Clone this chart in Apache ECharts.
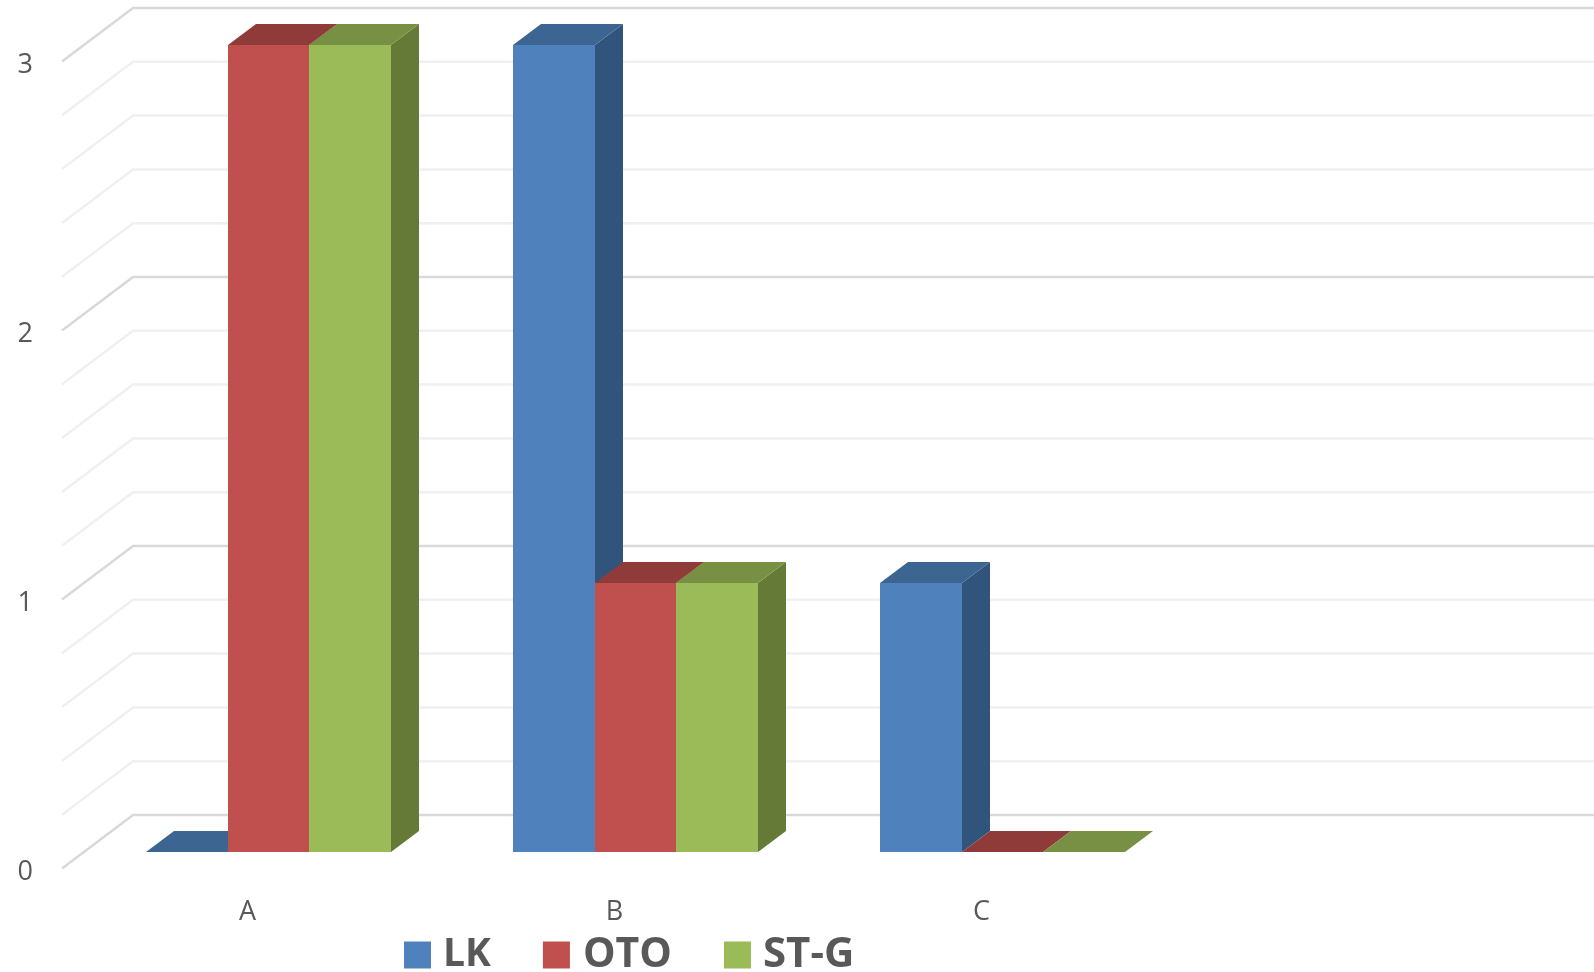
<!DOCTYPE html>
<html>
<head>
<meta charset="utf-8">
<style>html,body{margin:0;padding:0;background:#fff}#c{width:1594px;height:972px}</style>
<script src="https://cdn.jsdelivr.net/npm/echarts@6/dist/echarts.min.js"></script>
</head>
<body>
<div id="c"></div>
<script>
const categories = ['A', 'B', 'C', ''];
const seriesNames = ['LK', 'OTO', 'ST-G'];
const lkValues = [0, 3, 1];
const otoValues = [3, 1, 0];
const stgValues = [3, 1, 0];
const gridValues = [0, 0.2, 0.4, 0.6, 0.8, 1, 1.2, 1.4, 1.6, 1.8, 2, 2.2, 2.4, 2.6, 2.8, 3];
const frontColors = ['#4F81BD', '#C0504D', '#9BBB59'];
const topColors = ['#3C6592', '#8E3B3A', '#789044'];
const sideColors = ['#31547C', '#8E3B3A', '#657A37'];

const wallDx = 71, wallDy = -53.5;
const barShiftX = 23, barShiftY = -16.5;
const depthX = 28, depthY = -21;

function wallItem(params, api) {
  const v = api.value(1);
  const p = api.coord([0, v]);
  const cs = params.coordSys;
  const x0 = cs.x;
  const major = Number.isInteger(v);
  return {
    type: 'polyline',
    silent: true,
    shape: { points: [[x0, p[1]], [x0 + wallDx, p[1] + wallDy], [cs.x + cs.width + wallDx, p[1] + wallDy]] },
    style: { fill: null, stroke: major ? '#D9D9D9' : '#F0F0F0', lineWidth: 2.5 }
  };
}

function barRenderer(idx) {
  return function (params, api) {
    const cat = api.value(0);
    const val = api.value(1);
    const band = api.size([1, 0])[0];
    const w = band / 4.5;
    const c = api.coord([cat, val]);
    const b = api.coord([cat, 0]);
    const x0 = Math.round(c[0] - 1.5 * w + idx * w + barShiftX);
    const x1 = Math.round(c[0] - 1.5 * w + (idx + 1) * w + barShiftX);
    const yt = Math.round(c[1] + barShiftY);
    const yb = Math.round(b[1] + barShiftY);
    const children = [];
    if (yb - yt > 0.5) {
      children.push({
        type: 'polygon',
        shape: { points: [[x1, yt], [x1 + depthX, yt + depthY], [x1 + depthX, yb + depthY], [x1, yb]] },
        style: { fill: sideColors[idx] }
      });
      children.push({
        type: 'polygon',
        shape: { points: [[x0, yt], [x1, yt], [x1, yb], [x0, yb]] },
        style: { fill: frontColors[idx] }
      });
    }
    children.push({
      type: 'polygon',
      shape: { points: [[x0, yt], [x1, yt], [x1 + depthX, yt + depthY], [x0 + depthX, yt + depthY]] },
      style: { fill: topColors[idx] }
    });
    return { type: 'group', children };
  };
}

const textFont = '"Open Sans", sans-serif';
const valueLists = [lkValues, otoValues, stgValues];
const legendText = { fontFamily: textFont, fontWeight: 'bold', color: '#595959' };

const chart = echarts.init(document.getElementById('c'), null, { renderer: 'canvas' });
chart.setOption({
  animation: false,
  backgroundColor: '#ffffff',
  grid: { left: 62, top: 61.5, width: 1468, height: 807, containLabel: false },
  legend: {
    left: 404,
    top: 934,
    padding: 0,
    itemWidth: 27,
    itemHeight: 27,
    itemGap: 52,
    icon: 'rect',
    selectedMode: false,
    data: [
      { name: seriesNames[0], textStyle: Object.assign({}, legendText, { fontSize: 39, padding: [0, 0, 0, 7] }) },
      { name: seriesNames[1], textStyle: Object.assign({}, legendText, { fontSize: 41, padding: [0, 0, 0, 8] }) },
      { name: seriesNames[2], textStyle: Object.assign({}, legendText, { fontSize: 42, padding: [0, 0, 0, 7] }) }
    ],
    textStyle: Object.assign({}, legendText, { fontSize: 40, padding: [0, 0, 0, 8] })
  },
  xAxis: {
    type: 'category',
    data: categories,
    axisLine: { show: false },
    axisTick: { show: false },
    splitLine: { show: false },
    axisLabel: { margin: 30, padding: [0, 0, 0, 4], fontFamily: textFont, fontSize: 27, color: '#595959' }
  },
  yAxis: {
    type: 'value',
    min: 0,
    max: 3,
    interval: 1,
    axisLine: { show: false },
    axisTick: { show: false },
    splitLine: { show: false },
    axisLabel: { margin: 29, verticalAlign: 'top', lineHeight: 7, fontFamily: textFont, fontSize: 27, color: '#595959' }
  },
  series: [
    {
      name: 'wall',
      type: 'custom',
      silent: true,
      clip: false,
      renderItem: wallItem,
      encode: { x: 0, y: 1 },
      data: gridValues.map(v => [0, v])
    }
  ].concat(seriesNames.map((name, i) => ({
    name,
    type: 'custom',
    clip: false,
    itemStyle: { color: frontColors[i] },
    renderItem: barRenderer(i),
    encode: { x: 0, y: 1 },
    data: valueLists[i].map((v, k) => [k, v])
  })))
});
</script>
</body>
</html>
